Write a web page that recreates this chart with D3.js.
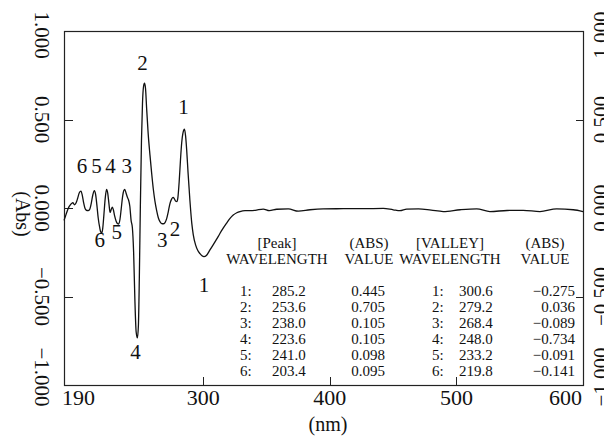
<!DOCTYPE html>
<html>
<head>
<meta charset="utf-8">
<script src="https://cdn.jsdelivr.net/npm/d3@7"></script>
<style>
  body { margin: 0; background: #fff; }
  text { font-family: "Liberation Serif", "Times New Roman", serif; fill: #111; }
</style>
</head>
<body>
<div id="chart"></div>
<script>
// derivative spectrum
const wavelength = [
  190.0, 191.0, 192.0, 193.0, 194.0, 195.0, 196.0, 197.0, 198.3, 199.5,
  200.8, 202.0, 203.4, 204.5, 205.5, 206.5, 207.5, 209.0, 210.3, 211.5,
  212.8, 214.0, 215.0, 216.0, 217.0, 218.2, 219.0, 219.8, 220.6, 221.5,
  222.5, 223.6, 224.5, 225.5, 226.4, 227.3, 228.2, 229.0, 230.0, 231.2,
  232.2, 233.2, 234.2, 235.2, 236.2, 237.2, 238.0, 239.0, 240.0, 241.0,
  242.0, 243.0, 244.0, 245.0, 246.0, 247.0, 248.0, 248.8, 249.5, 250.3,
  251.2, 252.0, 252.8, 253.6, 254.4, 255.3, 256.5, 257.9, 259.2, 260.5,
  261.8, 263.2, 264.5, 265.8, 267.2, 268.4, 269.8, 271.1, 272.4, 273.7,
  275.0, 276.2, 277.2, 278.3, 279.2, 280.0, 281.0, 282.0, 283.0, 284.0,
  285.2, 286.0, 286.9, 288.0, 289.5, 291.0, 292.1, 294.0, 295.7, 297.4,
  299.0, 300.6, 302.5, 305.3, 308.5, 311.9, 315.0, 318.5, 321.0, 323.7,
  326.5, 329.0, 333.0, 337.0, 341.0, 347.4, 352.2, 358.0, 367.2, 375.1,
  384.3, 394.8, 410.6, 426.4, 442.2, 450.1, 455.4, 460.7, 470.0, 480.0,
  489.6, 503.0, 516.0, 526.5, 540.0, 552.8, 566.0, 579.2, 592.3, 600.0
];
const absorbance = [
  -0.070, -0.050, -0.028, -0.008, 0.008, 0.018, 0.025, 0.030, 0.018, 0.028,
  0.055, 0.085, 0.095, 0.070, 0.030, 0.000, -0.012, -0.015, -0.008, 0.025,
  0.075, 0.098, 0.075, 0.015, -0.055, -0.110, -0.135, -0.141, -0.115, -0.040,
  0.050, 0.105, 0.085, 0.025, -0.025, -0.008, 0.005, -0.010, -0.045, -0.075,
  -0.088, -0.091, -0.065, -0.005, 0.060, 0.098, 0.105, 0.085, 0.062, 0.045,
  0.010, -0.070, -0.110, -0.250, -0.520, -0.700, -0.734, -0.660, -0.400, 0.000,
  0.380, 0.590, 0.685, 0.705, 0.675, 0.560, 0.420, 0.300, 0.200, 0.110,
  0.040, -0.015, -0.055, -0.077, -0.088, -0.089, -0.082, -0.060, -0.020, 0.025,
  0.050, 0.060, 0.052, 0.038, 0.036, 0.060, 0.150, 0.270, 0.370, 0.425,
  0.445, 0.410, 0.330, 0.200, 0.040, -0.090, -0.150, -0.210, -0.240, -0.258,
  -0.270, -0.275, -0.268, -0.237, -0.200, -0.160, -0.122, -0.085, -0.060, -0.040,
  -0.027, -0.020, -0.015, -0.015, -0.013, -0.006, -0.015, -0.007, -0.005, -0.018,
  -0.010, -0.005, -0.004, -0.004, -0.002, -0.010, -0.015, -0.006, -0.005, -0.012,
  -0.020, -0.010, -0.005, -0.020, -0.014, -0.013, -0.020, -0.005, -0.010, -0.020
];

const xTicks = [190, 300, 400, 500, 600];
const yTicks = [1, 0.5, 0, -0.5, -1];

// table as printed
const rowNo = ["1:", "2:", "3:", "4:", "5:", "6:"];
const peakWl = ["285.2", "253.6", "238.0", "223.6", "241.0", "203.4"];
const peakAbs = ["0.445", "0.705", "0.105", "0.105", "0.098", "0.095"];
const valleyWl = ["300.6", "279.2", "268.4", "248.0", "233.2", "219.8"];
const valleyAbs = ["−0.275", "0.036", "−0.089", "−0.734", "−0.091", "−0.141"];

// where the numbered marks sit on the curve
const peakNm = [285.2, 253.6, 238.0, 223.6, 214.0, 203.4];
const peakVal = [0.445, 0.705, 0.105, 0.105, 0.098, 0.095];
const valleyNm = [300.6, 279.2, 268.4, 248.0, 233.2, 219.8];
const valleyVal = [-0.275, 0.036, -0.089, -0.734, -0.091, -0.141];

const width = 604, height = 437;
const pL = 64, pR = 583, pT = 31, pB = 385;

const x = d3.scaleLinear().domain([190, 600]).range([pL, pR]);
const y = d3.scaleLinear().domain([-1, 1]).range([pB, pT]);
const fmt = d3.format(".3f");

const svg = d3.select("#chart").append("svg")
    .attr("width", width)
    .attr("height", height);

svg.append("rect").attr("width", width).attr("height", height).attr("fill", "#fff");

// frame
svg.append("rect")
    .attr("x", pL + 0.5).attr("y", pT + 0.5)
    .attr("width", pR - pL).attr("height", pB - pT)
    .attr("fill", "none").attr("stroke", "#222").attr("stroke-width", 1.2);

// inward ticks
svg.selectAll(".tl").data([0.5, 0, -0.5]).enter().append("line")
    .attr("x1", pL).attr("x2", pL + 9)
    .attr("y1", d => Math.round(y(d)) + 0.5).attr("y2", d => Math.round(y(d)) + 0.5)
    .attr("stroke", "#222");
svg.selectAll(".tr").data([0.5, -0.5]).enter().append("line")
    .attr("x1", pR - 7).attr("x2", pR)
    .attr("y1", d => Math.round(y(d)) + 0.5).attr("y2", d => Math.round(y(d)) + 0.5)
    .attr("stroke", "#222");
svg.selectAll(".tb").data(xTicks.slice(1, -1)).enter().append("line")
    .attr("x1", d => Math.round(x(d)) + 0.5).attr("x2", d => Math.round(x(d)) + 0.5)
    .attr("y1", pB - 8).attr("y2", pB)
    .attr("stroke", "#222");

// x labels
svg.selectAll(".xl").data(xTicks).enter().append("text")
    .attr("x", (d, i) => i === 0 ? pL - 2 : (i === xTicks.length - 1 ? pR - 1 : x(d)))
    .attr("y", 405)
    .attr("text-anchor", (d, i) => i === 0 ? "start" : (i === xTicks.length - 1 ? "end" : "middle"))
    .attr("font-size", 22)
    .text(d => d);
svg.append("text").attr("x", 328).attr("y", 431)
    .attr("text-anchor", "middle").attr("font-size", 20).text("(nm)");

// y labels, rotated, left and (clipped) right
const labelY = d => Math.max(pT + 4, Math.min(pB - 8, y(d)));
svg.selectAll(".yl").data(yTicks).enter().append("text")
    .attr("transform", d => `translate(35,${labelY(d)}) rotate(90)`)
    .attr("text-anchor", "middle").attr("font-size", 21)
    .text(d => fmt(d));
svg.selectAll(".yr").data(yTicks).enter().append("text")
    .attr("transform", d => `translate(608,${labelY(d)}) rotate(-90)`)
    .attr("text-anchor", "middle").attr("font-size", 21)
    .text(d => fmt(d));
svg.append("text")
    .attr("transform", "translate(16,214) rotate(90)")
    .attr("text-anchor", "middle").attr("font-size", 20).text("(Abs)");

// spectrum
const line = d3.line()
    .x(d => x(d[0]))
    .y(d => y(d[1]))
    .curve(d3.curveMonotoneX);
svg.append("path")
    .datum(wavelength.map((w, i) => [w, absorbance[i]]))
    .attr("d", line)
    .attr("fill", "none")
    .attr("stroke", "#111")
    .attr("stroke-width", 1.3);

// peak / valley numbers
const peakOff = [[-1, -15], [-2, -13], [2, 0], [4, 0], [2, 0], [1, 0]];
svg.selectAll(".pk").data(peakNm).enter().append("text")
    .attr("x", (d, i) => x(d) + peakOff[i][0])
    .attr("y", (d, i) => i < 2 ? y(peakVal[i]) + peakOff[i][1] : y(0.2))
    .attr("text-anchor", "middle").attr("font-size", 21)
    .text((d, i) => i + 1);
const valleyOff = [[0, 35], [-2, 34], [-1, 23], [-2, 21], [-2, 15], [-2, 14]];
svg.selectAll(".vl").data(valleyNm).enter().append("text")
    .attr("x", (d, i) => x(d) + valleyOff[i][0])
    .attr("y", (d, i) => y(valleyVal[i]) + valleyOff[i][1])
    .attr("text-anchor", "middle").attr("font-size", 21)
    .text((d, i) => i + 1);

// table
const tf = 15;
const head = [
  [277, "[Peak]", "WAVELENGTH"],
  [369, "(ABS)", "VALUE"],
  [450, "[VALLEY]", "WAVELENGTH"],
  [545, "(ABS)", "VALUE"]
];
head.forEach(h => {
  svg.append("text").attr("x", h[0]).attr("y", 248).attr("text-anchor", "middle")
      .attr("font-size", tf).text(h[1]);
  svg.append("text").attr("x", h[0]).attr("y", 264).attr("text-anchor", "middle")
      .attr("font-size", tf).text(h[2]);
});
const rowY = i => 296 + i * 16;
const cols = [
  [240, "start", rowNo],
  [272, "start", peakWl],
  [385, "end", peakAbs],
  [432, "start", rowNo],
  [459, "start", valleyWl],
  [575, "end", valleyAbs]
];
cols.forEach(c => {
  svg.selectAll(null).data(c[2]).enter().append("text")
      .attr("x", c[0]).attr("y", (d, i) => rowY(i))
      .attr("text-anchor", c[1]).attr("font-size", tf)
      .text(d => d);
});
</script>
</body>
</html>
